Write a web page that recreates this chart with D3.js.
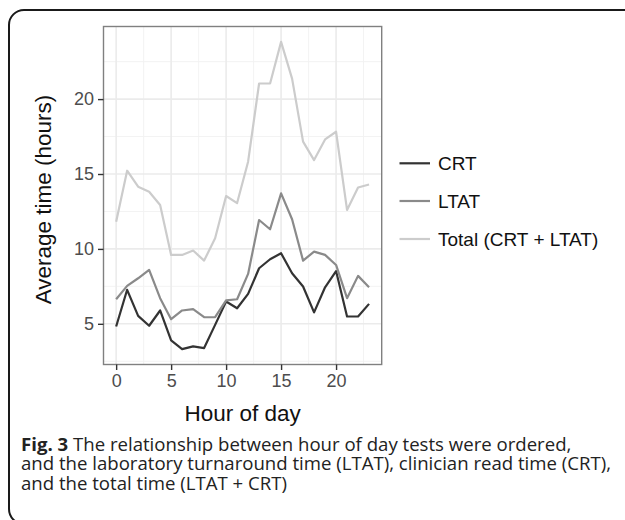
<!DOCTYPE html>
<html><head><meta charset="utf-8">
<script src="https://cdn.jsdelivr.net/npm/d3@7"></script>
<style>body{margin:0;background:#fff} svg{display:block}</style>
</head><body>
<svg id="c" width="625" height="520"></svg>
<script>
// ---- data ----
const hours = [0,1,2,3,4,5,6,7,8,9,10,11,12,13,14,15,16,17,18,19,20,21,22,23];
const crt   = [4.82,7.27,5.53,4.87,5.89,3.89,3.31,3.49,3.38,4.93,6.49,6.04,7.0,8.71,9.31,9.71,8.38,7.49,5.76,7.44,8.52,5.49,5.49,6.33];
const ltat  = [6.64,7.53,8.04,8.6,6.71,5.31,5.89,5.98,5.44,5.44,6.56,6.64,8.33,11.93,11.31,13.71,11.98,9.22,9.82,9.6,8.93,6.71,8.2,7.44];
const total = [11.82,15.22,14.15,13.82,12.93,9.6,9.6,9.89,9.22,10.71,13.53,13.06,15.82,21.04,21.04,23.82,21.37,17.16,15.93,17.31,17.82,12.6,14.1,14.3];
const seriesNames = ["CRT","LTAT","Total (CRT + LTAT)"];
const seriesColors = ["#333333","#8a8a8a","#cccccc"];
const xTicks = [0,5,10,15,20];
const yTicks = [5,10,15,20];
const xMinor = [2.5,7.5,12.5,17.5,22.5];
const yMinor = [2.5,7.5,12.5,17.5,22.5];
const xTitle = "Hour of day";
const yTitle = "Average time (hours)";
const captionBold = "Fig. 3";
const captionLines = [" The relationship between hour of day tests were ordered,",
  "and the laboratory turnaround time (LTAT), clinician read time (CRT),",
  "and the total time (LTAT + CRT)"];

const svg = d3.select("#c");
const P = {l:103.5, r:381.7, t:26.5, b:364.5};
const FONT = "'Liberation Sans', Arial, Helvetica, sans-serif";

// frame
svg.append("rect").attr("x",9).attr("y",10).attr("width",640).attr("height",514)
  .attr("rx",15).attr("fill","none").attr("stroke","#1a1a1a").attr("stroke-width",2);

const xExt = d3.extent(hours), xPad = (xExt[1]-xExt[0])*0.05;
const all = crt.concat(ltat, total);
const yExt = d3.extent(all), yPad = (yExt[1]-yExt[0])*0.05;
const x = d3.scaleLinear().domain([xExt[0]-xPad, xExt[1]+xPad]).range([P.l, P.r]);
const y = d3.scaleLinear().domain([yExt[0]-yPad, yExt[1]+yPad]).range([P.b, P.t]);

const g = svg.append("g");
// minor grid
g.selectAll(".xm").data(xMinor.filter(v=>v>=x.domain()[0]&&v<=x.domain()[1])).join("line")
  .attr("x1",d=>x(d)).attr("x2",d=>x(d)).attr("y1",P.t).attr("y2",P.b)
  .attr("stroke","#f2f2f2").attr("stroke-width",0.9);
g.selectAll(".ym").data(yMinor.filter(v=>v>=y.domain()[0]&&v<=y.domain()[1])).join("line")
  .attr("y1",d=>y(d)).attr("y2",d=>y(d)).attr("x1",P.l).attr("x2",P.r)
  .attr("stroke","#f2f2f2").attr("stroke-width",0.9);
// major grid
g.selectAll(".xg").data(xTicks).join("line")
  .attr("x1",d=>x(d)).attr("x2",d=>x(d)).attr("y1",P.t).attr("y2",P.b)
  .attr("stroke","#ebebeb").attr("stroke-width",1.6);
g.selectAll(".yg").data(yTicks).join("line")
  .attr("y1",d=>y(d)).attr("y2",d=>y(d)).attr("x1",P.l).attr("x2",P.r)
  .attr("stroke","#ebebeb").attr("stroke-width",1.6);

// lines
const seriesData = [crt, ltat, total];
const line = d3.line().x((d,i)=>x(hours[i])).y(d=>y(d));
seriesData.forEach((s,k)=>{
  svg.append("path").datum(s).attr("d",line).attr("fill","none")
    .attr("stroke",seriesColors[k]).attr("stroke-width",2.2).attr("stroke-linejoin","round");
});

// panel border
svg.append("rect").attr("x",P.l).attr("y",P.t).attr("width",P.r-P.l).attr("height",P.b-P.t)
  .attr("fill","none").attr("stroke","#808080").attr("stroke-width",1.4);

// axes
const xa = svg.append("g").attr("transform",`translate(0,${P.b})`)
  .call(d3.axisBottom(x).tickValues(xTicks).tickSize(5.5).tickPadding(4));
const ya = svg.append("g").attr("transform",`translate(${P.l},0)`)
  .call(d3.axisLeft(y).tickValues(yTicks).tickSize(5.5).tickPadding(4));
[xa,ya].forEach(a=>{
  a.select(".domain").remove();
  a.selectAll(".tick line").attr("stroke","#333").attr("stroke-width",1.4);
  a.selectAll(".tick text").attr("fill","#4d4d4d").style("font-family",FONT).style("font-size","18px");
});

// axis titles
svg.append("text").attr("x",(P.l+P.r)/2).attr("y",420.5).attr("text-anchor","middle")
  .style("font-family",FONT).style("font-size","22.5px").attr("fill","#111").text(xTitle);
svg.append("text").attr("transform",`translate(51,${(P.t+P.b)/2+4}) rotate(-90)`).attr("text-anchor","middle")
  .style("font-family",FONT).style("font-size","22.5px").attr("fill","#111").text(yTitle);

// legend
const legY = [163.3, 201, 239];
seriesNames.forEach((n,k)=>{
  svg.append("line").attr("x1",399.5).attr("x2",430).attr("y1",legY[k]).attr("y2",legY[k])
    .attr("stroke",seriesColors[k]).attr("stroke-width",2.2);
  svg.append("text").attr("x",438).attr("y",legY[k]).attr("dy","0.36em")
    .style("font-family",FONT).style("font-size","19px").attr("fill","#111").text(n);
});

// caption
const CF = "'Open Sans', 'Noto Sans', sans-serif";
const cap = svg.append("g").style("font-family",CF).style("font-size","18.6px").attr("fill","#222");
const t1 = cap.append("text").attr("x",21).attr("y",450.5);
t1.append("tspan").style("font-weight","bold").text(captionBold);
t1.append("tspan").text(captionLines[0]);
cap.append("text").attr("x",21).attr("y",470.2).text(captionLines[1]);
cap.append("text").attr("x",21).attr("y",489.8).text(captionLines[2]);
</script>
</body></html>
